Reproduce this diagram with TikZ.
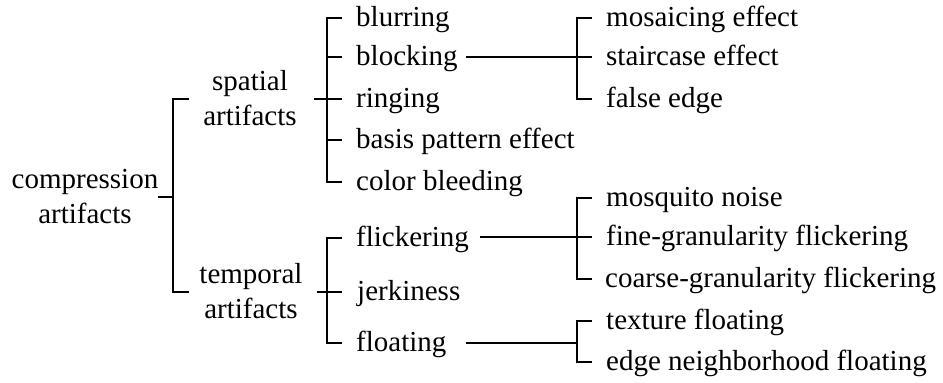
\documentclass[tikz,border=0pt]{standalone}
\usepackage{fontspec}
\setmainfont{Liberation Serif}
\newcommand{\twoline}[2]{\begin{tabular}{@{}c@{}}#1\\#2\end{tabular}}
\begin{document}
\begin{tikzpicture}[x=1pt,y=-1pt,
  lbl/.style={font=\fontsize{29pt}{35pt}\selectfont, inner sep=0pt},
  item/.style={lbl, anchor=base west},
  grp/.style={lbl},
  conn/.style={line width=1.8pt, black}]
\useasboundingbox (0,0) rectangle (943,383);
% nodes
\node[grp] (root) at (85,198.5) {\twoline{compression}{artifacts}};
\node[grp] (sp) at (250,101) {\twoline{spatial}{artifacts}};
\node[grp] (tp) at (251,293.5) {\twoline{temporal}{artifacts}};
\node[item] (blur) at (356,26) {blurring};
\node[item] (block) at (356,65) {blocking};
\node[item] (ring) at (356,107) {ringing};
\node[item] (basis) at (356,148) {basis pattern effect};
\node[item] (color) at (356,190) {color bleeding};
\node[item] (mosaic) at (606,26) {mosaicing effect};
\node[item] (stair) at (606,65) {staircase effect};
\node[item] (false) at (606,107) {false edge};
\node[item] (flick) at (356,246) {flickering};
\node[item] (jerk) at (357,300) {jerkiness};
\node[item] (float) at (356,351) {floating};
\node[item] (mosq) at (606,206) {mosquito noise};
\node[item] (fine) at (606,245) {fine-granularity flickering};
\node[item] (coarse) at (605,287) {coarse-granularity flickering};
\node[item] (texture) at (606,329) {texture floating};
\node[item] (edge) at (606,370) {edge neighborhood floating};
\coordinate (j1) at (173,197);
\coordinate (j2) at (327,99);
\coordinate (j3) at (327,292);
\coordinate (j4) at (577,57);
\coordinate (j5) at (577,237);
\coordinate (j6) at (577,343);
\tikzset{tk/.style={xshift=-14pt,yshift=8pt}, vt/.style={xshift=-29pt,yshift=8pt}}
% root bracket
\draw[conn] (root.east |- j1) -- (j1);
\draw[conn] ([xshift=16pt]j1 |- j2) -- (j1 |- j2) -- (j1 |- j3) -- ([xshift=16pt]j1 |- j3);
% spatial bracket
\draw[conn, shorten <=17pt] (sp.east |- j2) -- ([tk]ring.base west);
\draw[conn] ([tk]blur.base west) -| ([vt]color.base west) -- ([tk]color.base west);
\draw[conn] ([vt]block.base west) -- ([tk]block.base west);
\draw[conn] ([vt]basis.base west) -- ([tk]basis.base west);
% blocking bracket
\draw[conn, shorten <=8pt] (block.east |- j4) -- ([tk]stair.base west);
\draw[conn] ([tk]mosaic.base west) -| ([vt]false.base west) -- ([tk]false.base west);
% temporal bracket
\draw[conn, shorten <=14pt] (tp.east |- j3) -- ([xshift=-15pt,yshift=8pt]jerk.base west);
\draw[conn] ([tk]flick.base west) -| ([vt]float.base west) -- ([tk]float.base west);
% flickering bracket
\draw[conn, shorten <=11pt] (flick.east |- j5) -- ([tk]fine.base west);
\draw[conn] ([tk]mosq.base west) -| ([xshift=-28pt,yshift=8pt]coarse.base west) -- ([xshift=-13pt,yshift=8pt]coarse.base west);
% floating bracket
\draw[conn, shorten <=19pt] (float.east |- j6) -- (j6);
\draw[conn] ([tk]texture.base west) -| ([vt]edge.base west) -- ([tk]edge.base west);
\end{tikzpicture}
\end{document}
